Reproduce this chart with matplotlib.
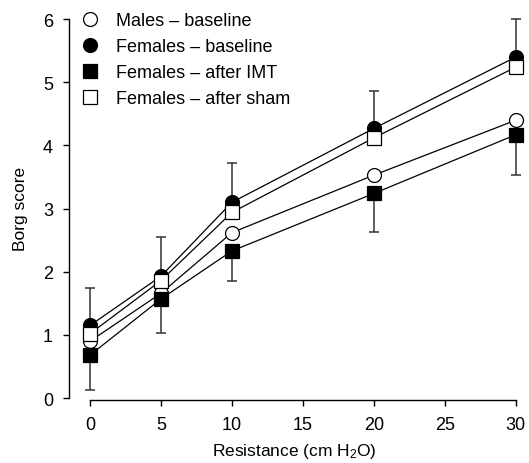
import matplotlib
matplotlib.use("Agg")
import matplotlib.pyplot as plt
from matplotlib.lines import Line2D

plt.rcParams['font.family'] = ['Liberation Sans', 'DejaVu Sans']
plt.rcParams['mathtext.default'] = 'regular'

resistance = [0, 5, 10, 20, 30]
males_baseline = [0.90, 1.66, 2.62, 3.53, 4.40]
females_baseline = [1.15, 1.93, 3.10, 4.27, 5.40]
females_imt = [0.68, 1.57, 2.33, 3.24, 4.17]
females_sham = [1.02, 1.86, 2.94, 4.12, 5.24]
fb_err_up = [0.60, 0.62, 0.62, 0.59, 0.60]
imt_err_down = [0.55, 0.54, 0.48, 0.61, 0.63]

labels = ['Males \u2013 baseline', 'Females \u2013 baseline',
          'Females \u2013 after IMT', 'Females \u2013 after sham']
xticks = [0, 5, 10, 15, 20, 25, 30]
yticks = [0, 1, 2, 3, 4, 5, 6]

fig = plt.figure(figsize=(5.29, 4.64), dpi=100)
ax = fig.add_axes([69/529, 1-401/464, (520-69)/529, (401-17)/464])

ms = 10
lw = 0.9
ecol = '#333333'

ax.errorbar(resistance, females_baseline, yerr=[[0]*5, fb_err_up], fmt='none',
            ecolor=ecol, elinewidth=1.1, capsize=3.3, capthick=1.1, zorder=1, clip_on=False)
ax.errorbar(resistance, females_imt, yerr=[imt_err_down, [0]*5], fmt='none',
            ecolor=ecol, elinewidth=1.1, capsize=3.3, capthick=1.1, zorder=1, clip_on=False)

series = [
    (males_baseline, 'o', 'white', 3),
    (females_baseline, 'o', 'black', 2),
    (females_imt, 's', 'black', 5),
    (females_sham, 's', 'white', 4),
]
handles = []
for (vals, mk, fc, z), lab in zip(series, labels):
    ax.plot(resistance, vals, color='black', lw=lw, zorder=1.5, clip_on=False)
    ax.plot(resistance, vals, linestyle='none', marker=mk, ms=ms, mfc=fc, mec='black',
            mew=0.9, zorder=z, clip_on=False)
    handles.append(Line2D([], [], linestyle='none', marker=mk, ms=ms, mfc=fc,
                          mec='black', mew=0.9))

ax.set_xlim(-1.48, 30.3)
ax.set_ylim(-0.03, 6.05)
ax.set_xticks(xticks)
ax.set_yticks(yticks)
for s in ['top', 'right']:
    ax.spines[s].set_visible(False)
ax.spines['bottom'].set_bounds(0, 30)
ax.spines['left'].set_bounds(0, 6)
ax.spines['left'].set_linewidth(1.0)
ax.spines['bottom'].set_linewidth(1.0)
ax.tick_params(axis='both', labelsize=13, length=4, width=1.0, pad=7.5)

ax.set_xlabel('Resistance (cm H$_2$O)', fontsize=12.5, labelpad=6)
ax.set_ylabel('Borg score', fontsize=12.5, labelpad=11)

leg = fig.legend(handles, labels, loc='upper left', bbox_to_anchor=(79/529, 1-13/464),
                 frameon=False, fontsize=13, handlelength=1.2, handletextpad=0.85,
                 labelspacing=0.5, borderaxespad=0, borderpad=0)

fig.savefig('out.png', dpi=100)
